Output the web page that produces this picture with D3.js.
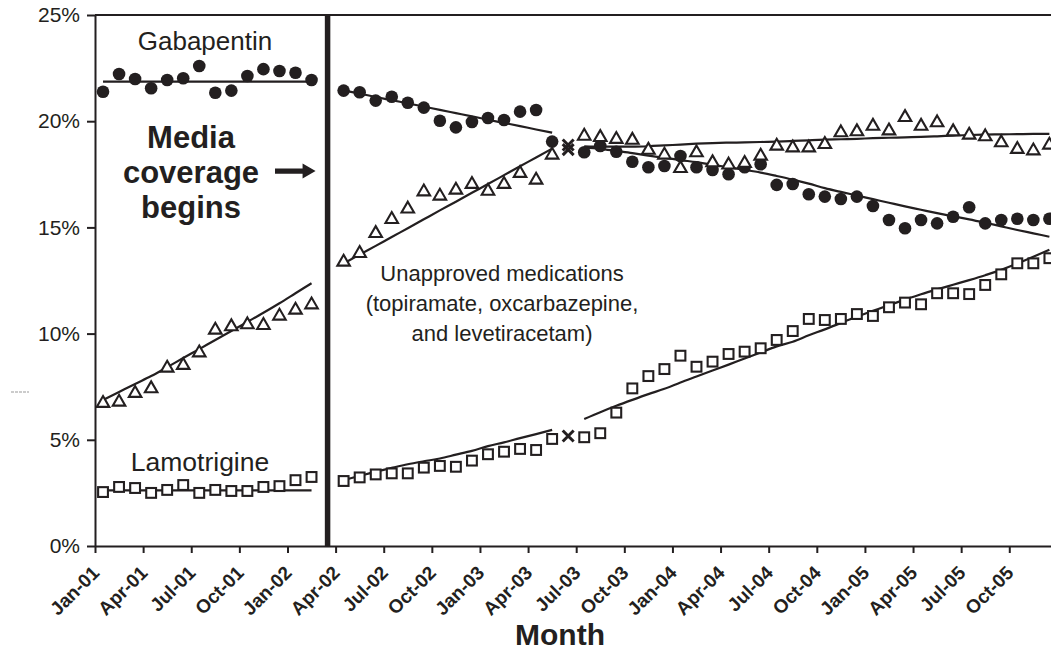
<!DOCTYPE html>
<html>
<head>
<meta charset="utf-8">
<script src="https://cdn.jsdelivr.net/npm/d3@7"></script>
<style>
  html, body { margin: 0; padding: 0; background: #fff; }
  svg { display: block; }
  text { font-family: "Liberation Sans", Arial, Helvetica, sans-serif; fill: #231f20; }
</style>
</head>
<body>
<svg id="chart" width="1051" height="652"></svg>
<script>
// ---------- DATA ----------
const tickLabels = ["Jan-01","Apr-01","Jul-01","Oct-01","Jan-02","Apr-02","Jul-02","Oct-02","Jan-03","Apr-03",
                    "Jul-03","Oct-03","Jan-04","Apr-04","Jul-04","Oct-04","Jan-05","Apr-05","Jul-05","Oct-05"];
const yTicks = [0, 5, 10, 15, 20, 25];

// monthly values (month index 0 = Jan-01 ... 59 = Dec-05); null = no point drawn
const gabapentin = [
  21.39, 22.22, 21.99, 21.55, 21.94, 22.02, 22.60, 21.34, 21.44, 22.13, 22.45, 22.36, 22.28, 21.94,
  null,
  21.44, 21.36, 20.97, 21.15, 20.87, 20.64, 20.02, 19.71, 19.96, 20.15, 20.06, 20.45, 20.53, 19.04,
  null,
  18.54, 18.83, 18.56, 18.09, 17.83, 17.89, 18.36, 17.83, 17.70, 17.50, 17.83, 17.97, 17.00, 17.04, 16.56,
  16.45, 16.34, 16.45, 16.01, 15.35, 14.96, 15.35, 15.19, 15.50, 15.95, 15.19, 15.35, 15.41, 15.35, 15.41
];
const unapproved = [
  6.72, 6.78, 7.19, 7.41, 8.38, 8.51, 9.10, 10.17, 10.33, 10.42, 10.39, 10.83, 11.11, 11.36,
  null,
  13.37, 13.78, 14.72, 15.38, 15.87, 16.68, 16.48, 16.76, 17.03, 16.71, 17.03, 17.55, 17.23, 18.41,
  null,
  19.30, 19.24, 19.15, 19.11, 18.64, 18.41, 17.78, 18.52, 18.05, 17.94, 18.02, 18.36, 18.83, 18.75, 18.75,
  18.91, 19.46, 19.51, 19.77, 19.55, 20.18, 19.77, 19.93, 19.51, 19.35, 19.27, 18.99, 18.68, 18.61, 18.88
];
const lamotrigine = [
  2.54, 2.78, 2.73, 2.50, 2.64, 2.87, 2.50, 2.64, 2.59, 2.59, 2.78, 2.82, 3.10, 3.25,
  null,
  3.06, 3.23, 3.37, 3.42, 3.42, 3.69, 3.77, 3.73, 4.02, 4.32, 4.44, 4.57, 4.52, 5.04,
  null,
  5.12, 5.31, 6.28, 7.42, 8.00, 8.33, 8.96, 8.44, 8.68, 9.04, 9.15, 9.31, 9.70, 10.12, 10.69,
  10.64, 10.69, 10.92, 10.83, 11.24, 11.46, 11.38, 11.90, 11.90, 11.86, 12.29, 12.79, 13.31, 13.31, 13.55
];
// Jun-03 (month 29) values, shown with an x marker
const jun03Month = 29;
const jun03Values = [18.88, 18.66, 5.18]; // gabapentin, unapproved, lamotrigine

// fitted trend values, one per month (null = break between segments)
const gabapentinTrend = [
  21.86, 21.86, 21.86, 21.86, 21.86, 21.86, 21.86, 21.86, 21.86, 21.86, 21.86, 21.86, 21.86, 21.86,
  null,
  21.45, 21.30, 21.14, 20.99, 20.84, 20.69, 20.53, 20.38, 20.23, 20.07, 19.92, 19.77, 19.61, 19.46,
  null,
  18.77, 18.70, 18.60, 18.50, 18.38, 18.28, 18.17, 18.07, 17.95, 17.83, 17.71, 17.58, 17.42, 17.25, 17.06,
  16.85, 16.67, 16.50, 16.33, 16.16, 15.99, 15.83, 15.67, 15.52, 15.38, 15.22, 15.05, 14.88, 14.72, 14.56
];
const unapprovedTrend = [
  6.87, 7.25, 7.63, 8.00, 8.42, 8.85, 9.27, 9.70, 10.12, 10.55, 10.98, 11.43, 11.90, 12.37,
  null,
  13.30, 13.72, 14.13, 14.55, 14.96, 15.38, 15.80, 16.21, 16.63, 17.04, 17.46, 17.88, 18.29, 18.71,
  null,
  18.82, 18.80, 18.80, 18.80, 18.82, 18.86, 18.90, 18.94, 18.97, 18.99, 19.00, 19.02, 19.04, 19.07, 19.10,
  19.13, 19.15, 19.17, 19.20, 19.22, 19.24, 19.26, 19.29, 19.32, 19.35, 19.37, 19.38, 19.39, 19.40, 19.40
];
const lamotrigineTrend = [
  2.62, 2.62, 2.62, 2.62, 2.62, 2.62, 2.62, 2.62, 2.62, 2.62, 2.62, 2.62, 2.62, 2.62,
  null,
  3.10, 3.30, 3.50, 3.68, 3.85, 3.99, 4.12, 4.30, 4.48, 4.70, 4.88, 5.08, 5.27, 5.47,
  null,
  5.98, 6.30, 6.60, 6.88, 7.15, 7.40, 7.70, 7.98, 8.26, 8.54, 8.83, 9.11, 9.40, 9.62, 9.92,
  10.20, 10.50, 10.80, 11.07, 11.34, 11.60, 11.85, 12.08, 12.30, 12.52, 12.75, 13.00, 13.30, 13.62, 13.95
];
const mediaMonth = 14; // Mar-02: media coverage begins

// ---------- CHART ----------
const ink = "#231f20";
const svg = d3.select("#chart");
svg.append("rect").attr("width", 1051).attr("height", 652).attr("fill", "#fff");

const x = d3.scaleLinear().domain([0, 60]).range([95, 95 + 60 * 16.04]);
const y = d3.scaleLinear().domain([0, 25]).range([546, 15]);
const cx = m => x(m + 0.5);

// y axis
const yAxis = svg.append("g").attr("transform", `translate(${x(0)},0)`)
  .call(d3.axisLeft(y).tickValues(yTicks).tickFormat(d => d + "%").tickSize(8).tickSizeOuter(0).tickPadding(7));
yAxis.select(".domain").attr("stroke", ink).attr("stroke-width", 2);
yAxis.selectAll(".tick line").attr("stroke", ink).attr("stroke-width", 2);
yAxis.selectAll(".tick text").attr("font-size", 21).attr("fill", ink)
  .style("font-family", '"Liberation Sans", Arial, sans-serif');

// x axis
const xAxis = svg.append("g").attr("transform", `translate(0,${y(0)})`)
  .call(d3.axisBottom(x).tickValues(d3.range(0, 60, 3)).tickFormat((d, i) => tickLabels[i])
        .tickSize(7).tickSizeOuter(0));
xAxis.select(".domain").attr("stroke", ink).attr("stroke-width", 2);
xAxis.selectAll(".tick line").attr("stroke", ink).attr("stroke-width", 2);
xAxis.selectAll(".tick text")
  .attr("font-size", 19).attr("font-weight", "bold").attr("fill", ink)
  .style("font-family", '"Liberation Sans", Arial, sans-serif')
  .attr("text-anchor", "end").attr("y", 0).attr("dy", 0)
  .attr("transform", "translate(5,28) rotate(-45)");

// top frame line
svg.append("line").attr("x1", x(0)).attr("x2", x(60)).attr("y1", y(25)).attr("y2", y(25))
  .attr("stroke", ink).attr("stroke-width", 2);

// media coverage vertical line
svg.append("line").attr("x1", cx(mediaMonth)).attr("x2", cx(mediaMonth))
  .attr("y1", y(25) - 1).attr("y2", y(0)).attr("stroke", ink).attr("stroke-width", 5.5);

// trend lines
const line = d3.line().defined(d => d.v != null).x(d => cx(d.m)).y(d => y(d.v)).curve(d3.curveMonotoneX);
[gabapentinTrend, unapprovedTrend, lamotrigineTrend].forEach(arr => {
  svg.append("path").datum(arr.map((v, m) => ({m, v})))
    .attr("d", line).attr("fill", "none").attr("stroke", ink).attr("stroke-width", 2.2);
});

// markers
const pts = arr => arr.map((v, m) => ({m, v})).filter(d => d.v != null);
svg.append("g").selectAll("circle").data(pts(gabapentin)).join("circle")
  .attr("cx", d => cx(d.m)).attr("cy", d => y(d.v)).attr("r", 6.3).attr("fill", ink);

const tri = d3.symbol().type(d3.symbolTriangle).size(68);
svg.append("g").selectAll("path").data(pts(unapproved)).join("path")
  .attr("transform", d => `translate(${cx(d.m)},${y(d.v)})`).attr("d", tri)
  .attr("fill", "#fff").attr("stroke", ink).attr("stroke-width", 2.1);

svg.append("g").selectAll("rect").data(pts(lamotrigine)).join("rect")
  .attr("x", d => cx(d.m) - 4.9).attr("y", d => y(d.v) - 4.9).attr("width", 9.8).attr("height", 9.8)
  .attr("fill", "#fff").attr("stroke", ink).attr("stroke-width", 2.1);

const cross = d3.symbol().type(d3.symbolX).size(80);
svg.append("g").selectAll("path").data(jun03Values).join("path")
  .attr("transform", d => `translate(${cx(jun03Month)},${y(d)})`).attr("d", cross)
  .attr("fill", "none").attr("stroke", ink).attr("stroke-width", 3);

// annotations
svg.append("text").attr("x", 205).attr("y", 50).attr("text-anchor", "middle")
  .attr("font-size", 26).text("Gabapentin");
svg.append("text").attr("x", 200).attr("y", 471).attr("text-anchor", "middle")
  .attr("font-size", 26.5).text("Lamotrigine");

const media = svg.append("text").attr("text-anchor", "middle").attr("font-size", 31).attr("font-weight", "bold");
["Media", "coverage", "begins"].forEach((t, i) =>
  media.append("tspan").attr("x", 191).attr("y", 148 + i * 35).text(t));

// arrow
const ay = y(17.65), ax0 = 275, ax1 = cx(mediaMonth) - 12;
svg.append("path")
  .attr("d", `M${ax0},${ay - 2.6}H${ax1 - 13}V${ay - 7.5}L${ax1},${ay}L${ax1 - 13},${ay + 7.5}V${ay + 2.6}H${ax0}Z`)
  .attr("fill", ink);

const un = svg.append("text").attr("text-anchor", "middle").attr("font-size", 22);
["Unapproved medications", "(topiramate, oxcarbazepine,", "and levetiracetam)"].forEach((t, i) =>
  un.append("tspan").attr("x", 502).attr("y", 281 + i * 30).text(t));

svg.append("text").attr("x", 560).attr("y", 645).attr("text-anchor", "middle")
  .attr("font-size", 30).attr("font-weight", "bold").text("Month");

// tiny grey remnant at the left edge
svg.append("line").attr("x1", 11).attr("x2", 29).attr("y1", 392).attr("y2", 392)
  .attr("stroke", "#999").attr("stroke-width", 1).attr("stroke-dasharray", "3,1");
</script>
</body>
</html>
